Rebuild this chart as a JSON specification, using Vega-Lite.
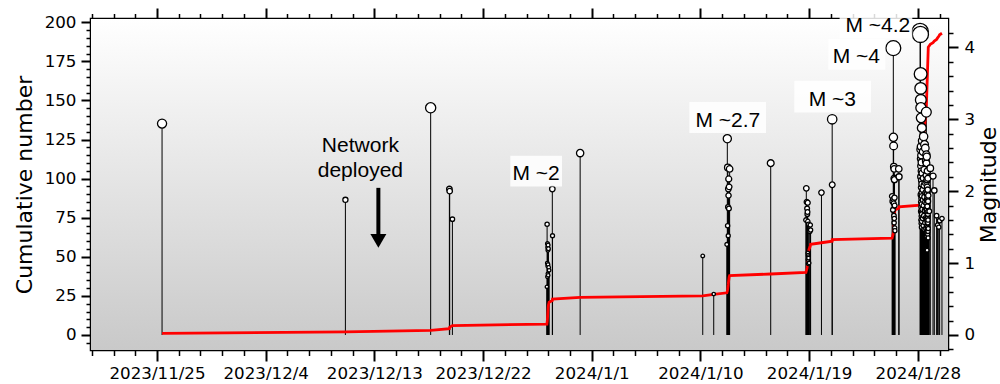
{
  "$schema": "https://vega.github.io/schema/vega-lite/v6.json",
  "width": 857,
  "height": 331,
  "autosize": "none",
  "padding": {"left": 91, "top": 19, "right": 52, "bottom": 34},
  "background": "white",
  "config": {
    "view": {"stroke": "black", "strokeWidth": 2.5},
    "axis": {
      "domain": false, "grid": false,
      "labelFont": "DejaVu Sans", "labelFontSize": 16.7, "labelColor": "black",
      "tickColor": "black",
      "titleFont": "DejaVu Sans", "titleFontSize": 22, "titleFontWeight": "normal", "titleColor": "black",
      "labelOverlap": false, "labelFlush": false
    }
  },
  "datasets": {
    "events": [
      {"t":"2023-11-25T10:00Z","m":2.94},
      {"t":"2023-12-10T14:24Z","m":1.88},
      {"t":"2023-12-17T15:50Z","m":3.16},
      {"t":"2023-12-19T05:02Z","m":2.03},
      {"t":"2023-12-19T05:40Z","m":2.00},
      {"t":"2023-12-19T11:02Z","m":1.61},
      {"t":"2023-12-27T06:52Z","m":0.67},
      {"t":"2023-12-27T07:16Z","m":1.54},
      {"t":"2023-12-27T07:40Z","m":1.00},
      {"t":"2023-12-27T07:52Z","m":0.81},
      {"t":"2023-12-27T08:04Z","m":1.27},
      {"t":"2023-12-27T08:16Z","m":0.96},
      {"t":"2023-12-27T08:28Z","m":1.22},
      {"t":"2023-12-27T08:39Z","m":0.85},
      {"t":"2023-12-27T08:51Z","m":1.18},
      {"t":"2023-12-27T09:03Z","m":0.98},
      {"t":"2023-12-27T09:15Z","m":1.25},
      {"t":"2023-12-27T09:27Z","m":0.83},
      {"t":"2023-12-27T09:51Z","m":1.20},
      {"t":"2023-12-27T10:27Z","m":0.94},
      {"t":"2023-12-27T11:14Z","m":0.90},
      {"t":"2023-12-27T17:37Z","m":2.03},
      {"t":"2023-12-27T18:01Z","m":1.38},
      {"t":"2023-12-30T00:55Z","m":2.53},
      {"t":"2024-01-09T04:35Z","m":1.10},
      {"t":"2024-01-10T02:25Z","m":0.57},
      {"t":"2024-01-11T04:26Z","m":1.26},
      {"t":"2024-01-11T05:25Z","m":2.73},
      {"t":"2024-01-11T06:01Z","m":1.52},
      {"t":"2024-01-11T06:25Z","m":2.33},
      {"t":"2024-01-11T06:49Z","m":1.78},
      {"t":"2024-01-11T07:13Z","m":1.38},
      {"t":"2024-01-11T07:25Z","m":2.03},
      {"t":"2024-01-11T07:49Z","m":1.94},
      {"t":"2024-01-11T08:12Z","m":2.17},
      {"t":"2024-01-11T08:36Z","m":1.76},
      {"t":"2024-01-11T09:00Z","m":2.06},
      {"t":"2024-01-11T10:00Z","m":2.31},
      {"t":"2024-01-14T19:40Z","m":2.39},
      {"t":"2024-01-17T17:37Z","m":1.60},
      {"t":"2024-01-17T18:24Z","m":2.04},
      {"t":"2024-01-17T19:12Z","m":1.85},
      {"t":"2024-01-17T20:00Z","m":1.76},
      {"t":"2024-01-17T20:24Z","m":1.68},
      {"t":"2024-01-17T20:48Z","m":1.71},
      {"t":"2024-01-17T21:11Z","m":1.84},
      {"t":"2024-01-17T21:23Z","m":1.58},
      {"t":"2024-01-17T21:35Z","m":1.14},
      {"t":"2024-01-17T21:47Z","m":1.05},
      {"t":"2024-01-17T21:59Z","m":1.11},
      {"t":"2024-01-17T22:11Z","m":0.99},
      {"t":"2024-01-17T22:22Z","m":1.09},
      {"t":"2024-01-17T22:46Z","m":1.07},
      {"t":"2024-01-17T23:10Z","m":1.54},
      {"t":"2024-01-17T23:58Z","m":1.00},
      {"t":"2024-01-18T01:21Z","m":1.44},
      {"t":"2024-01-18T02:21Z","m":1.53},
      {"t":"2024-01-18T02:57Z","m":1.46},
      {"t":"2024-01-19T00:30Z","m":1.98},
      {"t":"2024-01-19T21:50Z","m":3.00},
      {"t":"2024-01-19T21:55Z","m":2.09},
      {"t":"2024-01-24T20:56Z","m":1.93},
      {"t":"2024-01-24T21:44Z","m":1.86},
      {"t":"2024-01-24T22:32Z","m":1.74},
      {"t":"2024-01-24T23:20Z","m":3.99},
      {"t":"2024-01-24T23:32Z","m":2.75},
      {"t":"2024-01-24T23:44Z","m":1.89},
      {"t":"2024-01-24T23:56Z","m":2.63},
      {"t":"2024-01-25T00:08Z","m":1.83},
      {"t":"2024-01-25T00:20Z","m":2.34},
      {"t":"2024-01-25T00:32Z","m":1.66},
      {"t":"2024-01-25T00:44Z","m":2.18},
      {"t":"2024-01-25T00:56Z","m":1.56},
      {"t":"2024-01-25T01:07Z","m":2.31},
      {"t":"2024-01-25T01:19Z","m":1.62},
      {"t":"2024-01-25T01:31Z","m":2.16},
      {"t":"2024-01-25T01:43Z","m":1.91},
      {"t":"2024-01-25T01:55Z","m":1.80},
      {"t":"2024-01-25T02:07Z","m":1.49},
      {"t":"2024-01-25T02:31Z","m":1.45},
      {"t":"2024-01-25T10:09Z","m":2.31},
      {"t":"2024-01-25T10:45Z","m":2.20},
      {"t":"2024-01-27T04:34Z","m":4.22},
      {"t":"2024-01-27T05:10Z","m":4.18},
      {"t":"2024-01-27T05:34Z","m":3.63},
      {"t":"2024-01-27T05:39Z","m":2.58},
      {"t":"2024-01-27T05:44Z","m":3.43},
      {"t":"2024-01-27T05:48Z","m":2.20},
      {"t":"2024-01-27T05:53Z","m":1.95},
      {"t":"2024-01-27T05:58Z","m":3.27},
      {"t":"2024-01-27T06:03Z","m":1.72},
      {"t":"2024-01-27T06:08Z","m":2.45},
      {"t":"2024-01-27T06:12Z","m":3.16},
      {"t":"2024-01-27T06:17Z","m":1.60},
      {"t":"2024-01-27T06:22Z","m":2.35},
      {"t":"2024-01-27T06:27Z","m":1.85},
      {"t":"2024-01-27T06:32Z","m":3.02},
      {"t":"2024-01-27T06:36Z","m":2.62},
      {"t":"2024-01-27T06:41Z","m":1.55},
      {"t":"2024-01-27T06:46Z","m":2.05},
      {"t":"2024-01-27T06:51Z","m":1.78},
      {"t":"2024-01-27T06:56Z","m":2.50},
      {"t":"2024-01-27T07:00Z","m":1.65},
      {"t":"2024-01-27T07:05Z","m":2.28},
      {"t":"2024-01-27T07:10Z","m":1.90},
      {"t":"2024-01-27T07:15Z","m":1.50},
      {"t":"2024-01-27T07:20Z","m":2.15},
      {"t":"2024-01-27T07:24Z","m":1.70},
      {"t":"2024-01-27T07:29Z","m":2.40},
      {"t":"2024-01-27T07:34Z","m":1.82},
      {"t":"2024-01-27T07:39Z","m":1.58},
      {"t":"2024-01-27T07:44Z","m":2.10},
      {"t":"2024-01-27T07:48Z","m":1.98},
      {"t":"2024-01-27T07:53Z","m":1.68},
      {"t":"2024-01-27T07:58Z","m":2.88},
      {"t":"2024-01-27T08:16Z","m":1.93},
      {"t":"2024-01-27T08:34Z","m":2.25},
      {"t":"2024-01-27T08:52Z","m":1.75},
      {"t":"2024-01-27T09:10Z","m":2.70},
      {"t":"2024-01-27T09:28Z","m":1.62},
      {"t":"2024-01-27T09:46Z","m":2.02},
      {"t":"2024-01-27T10:04Z","m":1.88},
      {"t":"2024-01-27T10:22Z","m":2.55},
      {"t":"2024-01-27T10:40Z","m":1.52},
      {"t":"2024-01-27T10:58Z","m":2.18},
      {"t":"2024-01-27T11:16Z","m":1.80},
      {"t":"2024-01-27T11:34Z","m":2.76},
      {"t":"2024-01-27T11:52Z","m":1.66},
      {"t":"2024-01-27T12:10Z","m":2.08},
      {"t":"2024-01-27T12:28Z","m":1.47},
      {"t":"2024-01-27T12:46Z","m":2.30},
      {"t":"2024-01-27T13:04Z","m":1.92},
      {"t":"2024-01-27T13:22Z","m":2.65},
      {"t":"2024-01-27T13:40Z","m":1.73},
      {"t":"2024-01-27T13:58Z","m":1.56},
      {"t":"2024-01-27T14:16Z","m":2.12},
      {"t":"2024-01-27T14:34Z","m":1.85},
      {"t":"2024-01-27T14:52Z","m":2.60},
      {"t":"2024-01-27T15:10Z","m":1.63},
      {"t":"2024-01-27T15:28Z","m":1.98},
      {"t":"2024-01-27T15:46Z","m":1.48},
      {"t":"2024-01-27T16:04Z","m":2.42},
      {"t":"2024-01-27T16:22Z","m":1.76},
      {"t":"2024-01-27T16:40Z","m":2.22},
      {"t":"2024-01-27T16:54Z","m":3.10},
      {"t":"2024-01-27T17:00Z","m":2.51},
      {"t":"2024-01-27T17:06Z","m":1.83},
      {"t":"2024-01-27T17:12Z","m":2.39},
      {"t":"2024-01-27T17:18Z","m":1.62},
      {"t":"2024-01-27T17:24Z","m":2.13},
      {"t":"2024-01-27T17:30Z","m":1.74},
      {"t":"2024-01-27T17:36Z","m":2.00},
      {"t":"2024-01-27T17:42Z","m":1.52},
      {"t":"2024-01-27T17:48Z","m":2.48},
      {"t":"2024-01-27T17:54Z","m":1.42},
      {"t":"2024-01-27T18:00Z","m":1.88},
      {"t":"2024-01-27T18:06Z","m":1.37},
      {"t":"2024-01-27T18:12Z","m":2.16},
      {"t":"2024-01-27T18:18Z","m":1.58},
      {"t":"2024-01-27T18:24Z","m":1.96},
      {"t":"2024-01-27T18:30Z","m":1.18},
      {"t":"2024-01-27T18:36Z","m":1.70},
      {"t":"2024-01-27T18:42Z","m":2.06},
      {"t":"2024-01-27T18:48Z","m":1.47},
      {"t":"2024-01-27T18:54Z","m":1.79},
      {"t":"2024-01-27T19:00Z","m":1.55},
      {"t":"2024-01-27T19:06Z","m":2.28},
      {"t":"2024-01-27T19:12Z","m":1.45},
      {"t":"2024-01-27T19:18Z","m":1.66},
      {"t":"2024-01-27T19:24Z","m":1.92},
      {"t":"2024-01-27T19:30Z","m":1.50},
      {"t":"2024-01-27T19:36Z","m":1.40},
      {"t":"2024-01-27T19:42Z","m":2.02},
      {"t":"2024-01-27T19:48Z","m":1.64},
      {"t":"2024-01-27T19:54Z","m":1.56},
      {"t":"2024-01-27T20:00Z","m":1.68},
      {"t":"2024-01-27T20:06Z","m":2.18},
      {"t":"2024-01-27T20:12Z","m":1.44},
      {"t":"2024-01-27T20:18Z","m":1.60},
      {"t":"2024-01-27T20:24Z","m":1.86},
      {"t":"2024-01-27T20:30Z","m":1.35},
      {"t":"2024-01-27T20:36Z","m":1.72},
      {"t":"2024-01-27T20:42Z","m":1.48},
      {"t":"2024-01-27T20:48Z","m":1.94},
      {"t":"2024-01-27T22:51Z","m":1.72},
      {"t":"2024-01-28T00:50Z","m":2.32},
      {"t":"2024-01-28T06:14Z","m":2.21},
      {"t":"2024-01-28T08:46Z","m":2.01},
      {"t":"2024-01-28T13:20Z","m":1.66},
      {"t":"2024-01-28T15:17Z","m":1.53},
      {"t":"2024-01-28T17:41Z","m":1.50},
      {"t":"2024-01-28T19:21Z","m":1.59},
      {"t":"2024-01-29T00:00Z","m":1.62}
    ],
    "boxes": [
      {"label":"M ~2","t":"2023-12-26T09:26Z","m":2.158,"t1":"2023-12-24T06:09Z","t2":"2023-12-28T12:53Z","m1":2.065,"m2":2.492},
      {"label":"M ~2.7","t":"2024-01-11T06:24Z","m":2.896,"t1":"2024-01-08T01:55Z","t2":"2024-01-14T10:19Z","m1":2.808,"m2":3.240},
      {"label":"M ~3","t":"2024-01-19T22:06Z","m":3.188,"t1":"2024-01-16T18:29Z","t2":"2024-01-23T03:00Z","m1":3.095,"m2":3.536},
      {"label":"M ~4","t":"2024-01-21T21:48Z","m":3.783,"t1":"2024-01-19T14:10Z","t2":"2024-01-24T07:26Z","m1":3.689,"m2":4.117},
      {"label":"M ~4.2","t":"2024-01-23T16:32Z","m":4.214,"t1":"2024-01-20T12:36Z","t2":"2024-01-26T13:05Z","m1":4.124,"m2":4.556}
    ],
    "note": [
      {"label":"Network\ndeployed","t":"2023-12-11T20:10Z","c":117.2,"ta":"2023-12-13T07:55Z","c1":94.1,"c2":63.5,"ch":60.2}
    ]
  },
  "layer": [
    {
      "data": {"values": [{"bg": 1}]},
      "mark": {"type": "rect",
        "fill": {"gradient": "linear", "x1": 0, "y1": 0, "x2": 0, "y2": 1,
          "stops": [{"offset": 0, "color": "#ffffff"}, {"offset": 1, "color": "#c9c9c9"}]}},
      "encoding": {
        "x": {"value": 0}, "x2": {"value": "width"},
        "y": {"value": 0}, "y2": {"value": "height"}
      }
    },
    {
      "data": {"name": "events"},
      "mark": {"type": "rule", "color": "black", "strokeWidth": 1},
      "encoding": {
        "x": {"field": "t", "type": "temporal",
          "scale": {"type": "utc", "domain": [1700398051200, 1706529600000]},
          "axis": {"orient": "bottom", "title": null, "tickSize": 11, "tickWidth": 2, "labelPadding": 4,
            "values": [1700870400000, 1701648000000, 1702425600000, 1703203200000, 1703980800000, 1704758400000, 1705536000000, 1706313600000],
            "labelExpr": "['2023/11/25','2023/12/4','2023/12/13','2023/12/22','2024/1/1','2024/1/10','2024/1/19','2024/1/28'][round(datum.index * 7)]"}},
        "y": {"field": "m", "type": "quantitative",
          "scale": {"domain": [-0.209, 4.395], "nice": false, "zero": false},
          "axis": {"orient": "right", "values": [0, 1, 2, 3, 4], "tickSize": 10, "tickWidth": 2, "labelPadding": 6,
            "title": "Magnitude", "titleAngle": 270, "titleX": 40, "titleY": 165.5, "titleAlign": "center", "titleBaseline": "middle"}},
        "y2": {"datum": 0}
      }
    },
    {
      "data": {"name": "events"},
      "transform": [{"window": [{"op": "row_number", "as": "cum"}], "sort": [{"field": "t"}]}],
      "mark": {"type": "line", "color": "#ff0000", "strokeWidth": 2.8},
      "encoding": {
        "x": {"field": "t", "type": "temporal",
          "scale": {"type": "utc", "domain": [1700398051200, 1706529600000]},
          "axis": {"orient": "top", "title": null, "labels": false, "tickSize": 11, "tickWidth": 2,
            "values": [1700870400000, 1701648000000, 1702425600000, 1703203200000, 1703980800000, 1704758400000, 1705536000000, 1706313600000]}},
        "y": {"field": "cum", "type": "quantitative",
          "scale": {"domain": [-9.6, 202.1], "nice": false, "zero": false},
          "axis": {"orient": "left", "values": [0, 25, 50, 75, 100, 125, 150, 175, 200], "tickSize": 10, "tickWidth": 2, "labelPadding": 5,
            "title": "Cumulative number", "titleAngle": 270, "titleX": -66.7, "titleY": 165.5, "titleAlign": "center", "titleBaseline": "middle"}}
      }
    },
    {
      "data": {"name": "events"},
      "mark": {"type": "point", "shape": "circle", "filled": true, "fill": "white", "stroke": "black", "strokeWidth": 1.3, "opacity": 1},
      "encoding": {
        "x": {"field": "t", "type": "temporal",
          "scale": {"type": "utc", "domain": [1700398051200, 1706529600000]},
          "axis": {"orient": "bottom", "title": null, "labels": false, "tickSize": 5.5, "tickWidth": 1.5,
            "values": [1700403840000, 1700559360000, 1700714880000, 1701025920000, 1701181440000, 1701336960000, 1701492480000, 1701803520000, 1701959040000, 1702114560000, 1702270080000, 1702581120000, 1702736640000, 1702892160000, 1703047680000, 1703358720000, 1703514240000, 1703669760000, 1703825280000, 1704136320000, 1704291840000, 1704447360000, 1704602880000, 1704913920000, 1705069440000, 1705224960000, 1705380480000, 1705691520000, 1705847040000, 1706002560000, 1706158080000, 1706469120000]}},
        "y": {"field": "m", "type": "quantitative",
          "scale": {"domain": [-0.209, 4.395], "nice": false, "zero": false},
          "axis": {"orient": "right", "title": null, "labels": false, "tickSize": 5, "tickWidth": 1.5,
            "values": [-0.2, 0.2, 0.4, 0.6, 0.8, 1.2, 1.4, 1.6, 1.8, 2.2, 2.4, 2.6, 2.8, 3.2, 3.4, 3.6, 3.8, 4.2]}},
        "size": {"field": "m", "type": "quantitative", "legend": null,
          "scale": {"type": "pow", "exponent": 3.5, "domain": [0.5, 4.3], "range": [11, 285]}}
      }
    },
    {
      "data": {"name": "boxes"},
      "mark": {"type": "rect", "fill": "white", "opacity": 0.85},
      "encoding": {
        "x": {"field": "t1", "type": "temporal",
          "scale": {"type": "utc", "domain": [1700398051200, 1706529600000]},
          "axis": {"orient": "top", "title": null, "labels": false, "tickSize": 5.5, "tickWidth": 1.5,
            "values": [1700403840000, 1700559360000, 1700714880000, 1701025920000, 1701181440000, 1701336960000, 1701492480000, 1701803520000, 1701959040000, 1702114560000, 1702270080000, 1702581120000, 1702736640000, 1702892160000, 1703047680000, 1703358720000, 1703514240000, 1703669760000, 1703825280000, 1704136320000, 1704291840000, 1704447360000, 1704602880000, 1704913920000, 1705069440000, 1705224960000, 1705380480000, 1705691520000, 1705847040000, 1706002560000, 1706158080000, 1706469120000]}},
        "x2": {"field": "t2"},
        "y": {"field": "m1", "type": "quantitative",
          "scale": {"domain": [-0.209, 4.395], "nice": false, "zero": false}, "axis": null},
        "y2": {"field": "m2"}
      }
    },
    {
      "data": {"name": "boxes"},
      "mark": {"type": "text", "font": "Liberation Sans", "fontSize": 21, "align": "center", "baseline": "alphabetic", "color": "black"},
      "encoding": {
        "x": {"field": "t", "type": "temporal",
          "scale": {"type": "utc", "domain": [1700398051200, 1706529600000]}, "axis": null},
        "y": {"field": "m", "type": "quantitative",
          "scale": {"domain": [-0.209, 4.395], "nice": false, "zero": false}, "axis": null},
        "text": {"field": "label"}
      }
    },
    {
      "data": {"name": "note"},
      "mark": {"type": "text", "font": "Liberation Sans", "fontSize": 21, "align": "center", "baseline": "alphabetic", "lineBreak": "\n", "lineHeight": 25, "color": "black"},
      "encoding": {
        "x": {"field": "t", "type": "temporal",
          "scale": {"type": "utc", "domain": [1700398051200, 1706529600000]}, "axis": null},
        "y": {"field": "c", "type": "quantitative",
          "scale": {"domain": [-9.6, 202.1], "nice": false, "zero": false},
          "axis": {"orient": "left", "title": null, "labels": false, "tickSize": 5, "tickWidth": 1.5,
            "values": [-5, 5, 10, 15, 20, 30, 35, 40, 45, 55, 60, 65, 70, 80, 85, 90, 95, 105, 110, 115, 120, 130, 135, 140, 145, 155, 160, 165, 170, 180, 185, 190, 195]}},
        "text": {"field": "label"}
      }
    },
    {
      "data": {"name": "note"},
      "mark": {"type": "rule", "color": "black", "strokeWidth": 4, "strokeCap": "butt"},
      "encoding": {
        "x": {"field": "ta", "type": "temporal",
          "scale": {"type": "utc", "domain": [1700398051200, 1706529600000]}, "axis": null},
        "y": {"field": "c1", "type": "quantitative",
          "scale": {"domain": [-9.6, 202.1], "nice": false, "zero": false}, "axis": null},
        "y2": {"field": "c2"}
      }
    },
    {
      "data": {"name": "note"},
      "mark": {"type": "point", "shape": "triangle-down", "filled": true, "color": "black", "size": 256, "opacity": 1},
      "encoding": {
        "x": {"field": "ta", "type": "temporal",
          "scale": {"type": "utc", "domain": [1700398051200, 1706529600000]}, "axis": null},
        "y": {"field": "ch", "type": "quantitative",
          "scale": {"domain": [-9.6, 202.1], "nice": false, "zero": false}, "axis": null}
      }
    }
  ],
  "resolve": {"scale": {"x": "independent", "y": "independent"}}
}
